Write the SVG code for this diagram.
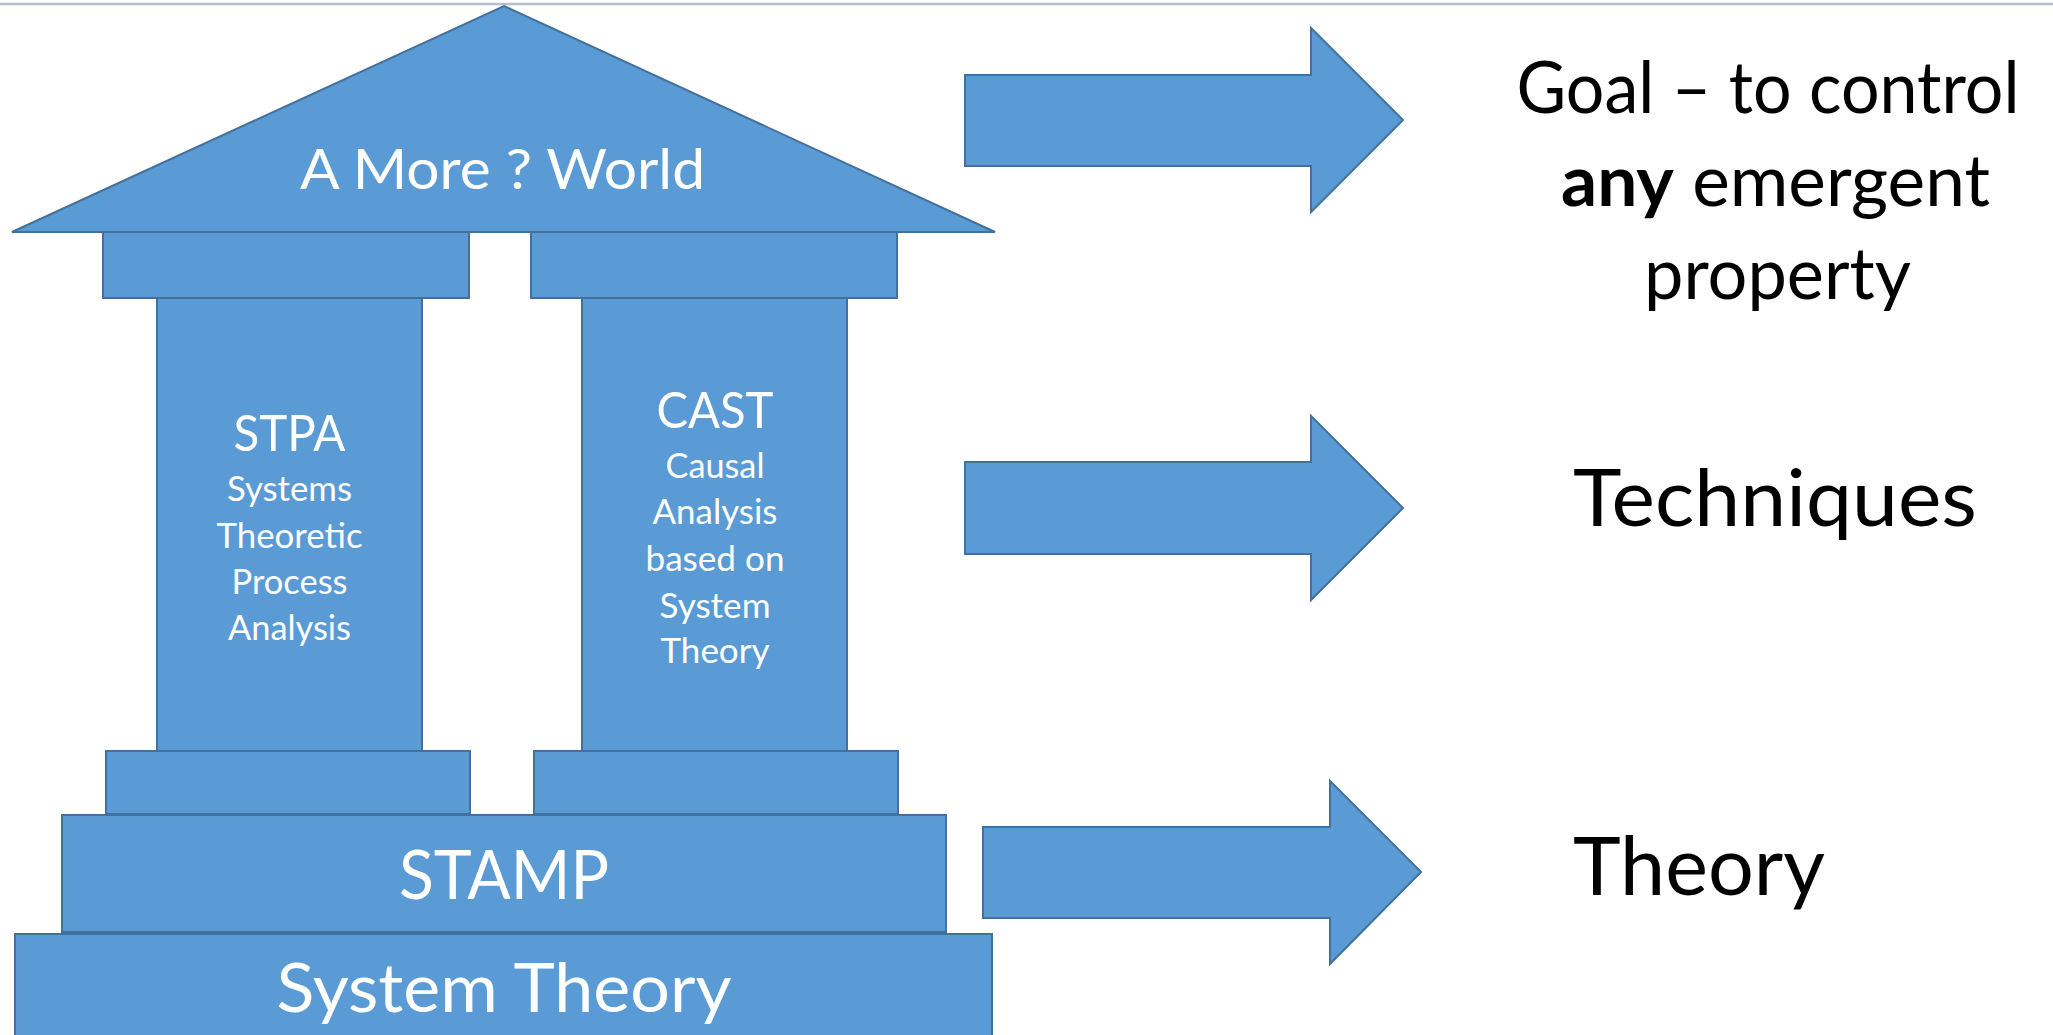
<svg xmlns="http://www.w3.org/2000/svg" width="2053" height="1035" viewBox="0 0 2053 1035">
<style>
.s{fill:#5B9BD5;stroke:#41719C;stroke-width:2;stroke-linejoin:miter}
.w{fill:#FFFFFF;font-family:Lato,"Carlito","Liberation Sans",sans-serif;text-anchor:middle}
.k{fill:#000000;font-family:Lato,"Carlito","Liberation Sans",sans-serif}
</style>
<rect x="0" y="0" width="2053" height="1035" fill="#FFFFFF"/>
<line x1="0" y1="4" x2="2053" y2="4" stroke="#B4BECD" stroke-width="2.5"/>

<g id="connectors">
<path class="s" d="M965,75 H1311 V28 L1403,120 L1311,212 V166 H965 Z"/>
<path class="s" d="M965,462 H1311 V416 L1403,508 L1311,600 V554 H965 Z"/>
<path class="s" d="M983,827 H1330 V781 L1421,872 L1330,964 V918 H983 Z"/>
</g>

<g id="system-theory">
<rect class="s" x="15" y="934" width="977" height="110"/>
<text class="w" x="504" y="1012" font-size="68" textLength="455" lengthAdjust="spacingAndGlyphs">System Theory</text>
</g>
<g id="stamp">
<rect class="s" x="62" y="815" width="884" height="117"/>
<text class="w" x="504" y="899" font-size="67" textLength="210" lengthAdjust="spacingAndGlyphs">STAMP</text>
</g>

<g id="stpa">
<rect class="s" x="157" y="298" width="265" height="453"/>
<rect class="s" x="103" y="232" width="366" height="66"/>
<rect class="s" x="106" y="751" width="364" height="63"/>
<text class="w" x="289.5" y="451" font-size="50" textLength="112" lengthAdjust="spacingAndGlyphs">STPA</text>
<text class="w" x="289.5" y="501" font-size="35" textLength="125" lengthAdjust="spacingAndGlyphs">Systems</text>
<text class="w" x="289.5" y="548" font-size="35" textLength="146" lengthAdjust="spacingAndGlyphs">Theoretic</text>
<text class="w" x="289.5" y="594" font-size="35" textLength="116" lengthAdjust="spacingAndGlyphs">Process</text>
<text class="w" x="289.5" y="640" font-size="35" textLength="123" lengthAdjust="spacingAndGlyphs">Analysis</text>
</g>

<g id="cast">
<rect class="s" x="582" y="298" width="265" height="453"/>
<rect class="s" x="531" y="232" width="366" height="66"/>
<rect class="s" x="534" y="751" width="364" height="63"/>
<text class="w" x="715" y="428" font-size="50" textLength="117" lengthAdjust="spacingAndGlyphs">CAST</text>
<text class="w" x="715" y="478" font-size="35" textLength="99" lengthAdjust="spacingAndGlyphs">Causal</text>
<text class="w" x="715" y="524" font-size="35" textLength="125" lengthAdjust="spacingAndGlyphs">Analysis</text>
<text class="w" x="715" y="571" font-size="35" textLength="139" lengthAdjust="spacingAndGlyphs">based on</text>
<text class="w" x="715" y="618" font-size="35" textLength="111" lengthAdjust="spacingAndGlyphs">System</text>
<text class="w" x="715" y="663" font-size="35" textLength="109" lengthAdjust="spacingAndGlyphs">Theory</text>
</g>

<g id="roof">
<path class="s" d="M504,6 L995,232 L12,232 Z"/>
<text class="w" x="502.5" y="189" font-size="57" textLength="405" lengthAdjust="spacingAndGlyphs">A More ? World</text>
</g>

<g id="goal">
<text class="k" x="1768" y="113" font-size="71" text-anchor="middle" textLength="503" lengthAdjust="spacingAndGlyphs">Goal – to control</text>
<text class="k" x="1775.5" y="206" font-size="71" text-anchor="middle" textLength="429" lengthAdjust="spacingAndGlyphs"><tspan font-weight="bold">any</tspan> emergent</text>
<text class="k" x="1777.5" y="299" font-size="71" text-anchor="middle" textLength="267" lengthAdjust="spacingAndGlyphs">property</text>
</g>
<g id="techniques">
<text class="k" x="1573" y="526" font-size="80" textLength="404" lengthAdjust="spacingAndGlyphs">Techniques</text>
</g>
<g id="theory">
<text class="k" x="1573" y="895" font-size="82" textLength="252" lengthAdjust="spacingAndGlyphs">Theory</text>
</g>
</svg>
